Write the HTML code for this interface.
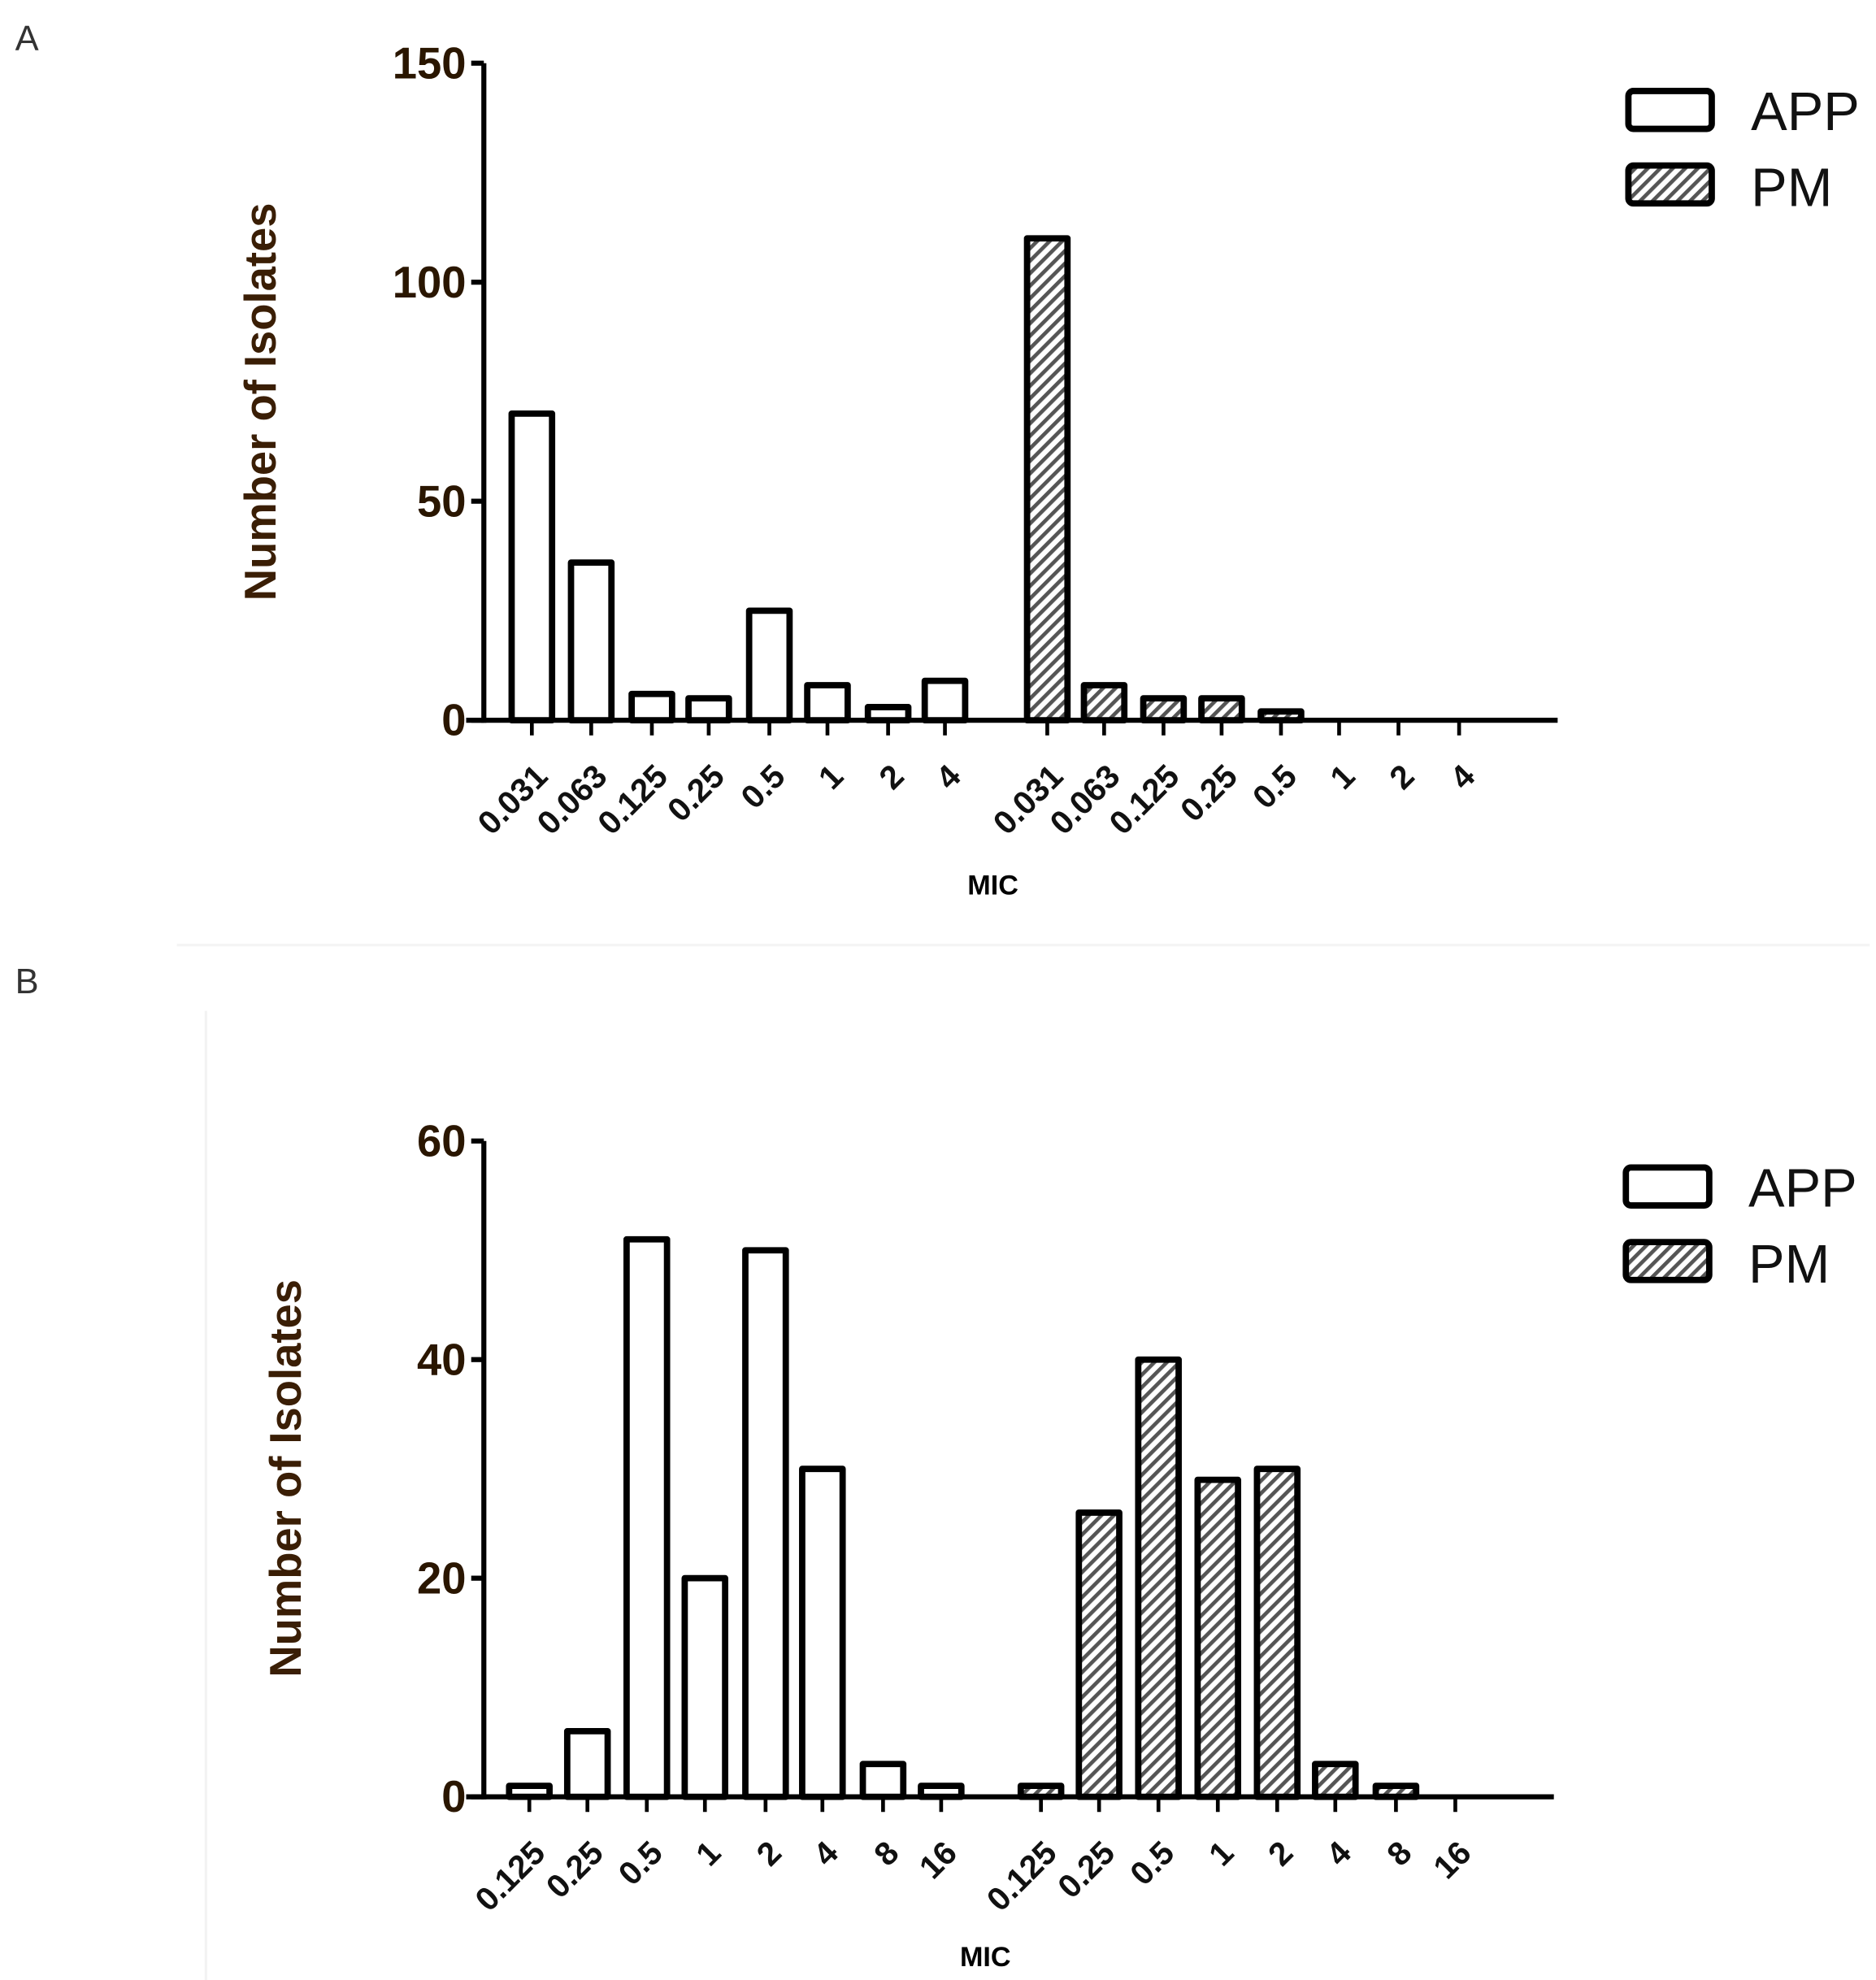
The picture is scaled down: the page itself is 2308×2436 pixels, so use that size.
<!DOCTYPE html>
<html><head><meta charset="utf-8"><style>
html,body{margin:0;padding:0;background:#fff;}
svg{display:block;}
text{font-family:"Liberation Sans",Arial,sans-serif;}
.yt{font-size:35px;font-weight:bold;text-anchor:end;fill:#2a1600;}
.xt{font-size:26px;font-weight:bold;text-anchor:end;fill:#111;}
.yl{font-size:35px;font-weight:bold;fill:#3a1e05;text-anchor:middle;}
.mic{font-size:22px;font-weight:bold;text-anchor:middle;}
.lg{font-size:43px;fill:#111;}
.bar{stroke:#000;stroke-width:5;stroke-linejoin:round;}
</style></head><body>
<svg width="2308" height="2436" viewBox="0 0 1485 1567" preserveAspectRatio="none" xmlns="http://www.w3.org/2000/svg">
<defs>
<pattern id="h" patternUnits="userSpaceOnUse" width="7" height="7" patternTransform="rotate(45)">
<rect width="7" height="7" fill="#fff"/><rect width="3" height="7" fill="#555"/>
</pattern>
</defs>
<rect width="1485" height="1567" fill="#fff"/>
<line x1="163" y1="800" x2="163" y2="1567" stroke="#f2f2f2" stroke-width="2"/>
<line x1="140" y1="748" x2="1480" y2="748" stroke="#f4f4f4" stroke-width="2"/>
<text x="12" y="40" font-size="28" fill="#333">A</text>
<text x="12" y="786" font-size="28" fill="#333">B</text>
<g id="charts"></g>
</svg>
<script>
(function(){
var NS="http://www.w3.org/2000/svg",g=document.getElementById("charts");
function el(t,a,txt){var e=document.createElementNS(NS,t);for(var k in a)e.setAttribute(k,a[k]);if(txt!==undefined)e.textContent=txt;g.appendChild(e);return e;}
function chart(o){
 var ppu=(o.y0-o.ytop)/o.ymax;
 el("line",{x1:o.ax,y1:o.ytop,x2:o.ax,y2:o.y0+2,stroke:"#000","stroke-width":4});
 el("line",{x1:o.ax-14,y1:o.y0,x2:o.xend,y2:o.y0,stroke:"#000","stroke-width":4});
 o.yticks.forEach(function(v){var y=o.y0-v*ppu;
  el("line",{x1:o.ax-10,y1:y,x2:o.ax,y2:y,stroke:"#000","stroke-width":4});
  el("text",{x:o.ax-14,y:y+12,"class":"yt"},String(v));});
 o.cx.forEach(function(c,i){
  el("line",{x1:c,y1:o.y0,x2:c,y2:o.y0+12,stroke:"#000","stroke-width":3});
  el("text",{"class":"xt",transform:"translate("+(c+14)+","+(o.y0+46)+") rotate(-45)"},o.labels[i]);
  var v=o.vals[i];
  if(v>0){var h=v*ppu;el("rect",{x:c-16,y:o.y0-h,width:32,height:h,"class":"bar",fill:i>=8?"url(#h)":"#fff"});}
 });
 el("text",{"class":"yl",transform:"translate("+o.ylx+","+o.yly+") rotate(-90)"},"Number of Isolates");
 el("text",{x:o.micx,y:o.micy,"class":"mic"},"MIC");
 el("rect",{x:o.lx,y:o.ly,width:66,height:30,rx:4,fill:"#fff",stroke:"#000","stroke-width":5});
 el("rect",{x:o.lx,y:o.ly+59,width:66,height:30,rx:4,fill:"url(#h)",stroke:"#000","stroke-width":5});
 el("text",{x:o.lx+97,y:o.ly+31,"class":"lg"},"APP");
 el("text",{x:o.lx+97,y:o.ly+91,"class":"lg"},"PM");
}
chart({ax:383,ytop:50,y0:570,ymax:150,yticks:[0,50,100,150],xend:1233,
 cx:[421,468,516,561,609,655,703,748,829,874,921,967,1014,1060,1107,1155],
 labels:["0.031","0.063","0.125","0.25","0.5","1","2","4","0.031","0.063","0.125","0.25","0.5","1","2","4"],
 vals:[70,36,6,5,25,8,3,9,110,8,5,5,2,0,0,0],
 ylx:218,yly:318,micx:786,micy:708,lx:1289,ly:72});
chart({ax:383,ytop:903,y0:1422,ymax:60,yticks:[0,20,40,60],xend:1230,
 cx:[419,465,512,558,606,651,699,745,824,870,917,964,1011,1057,1105,1152],
 labels:["0.125","0.25","0.5","1","2","4","8","16","0.125","0.25","0.5","1","2","4","8","16"],
 vals:[1,6,51,20,50,30,3,1,1,26,40,29,30,3,1,0],
 ylx:238,yly:1170,micx:780,micy:1556,lx:1287,ly:924});
})();
</script>
</body></html>
